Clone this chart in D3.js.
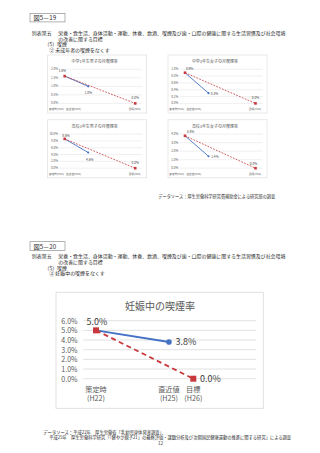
<!DOCTYPE html>
<html lang="ja">
<head>
<meta charset="UTF-8"/>
<title>図5-19 / 図5-20 喫煙の目標</title>
<script src="https://d3js.org/d3.v7.min.js"></script>
<style>
  body { margin: 0; background: #fff; }
  svg text { font-family: "Noto Sans CJK JP", "Noto Sans", sans-serif; }
</style>
</head>
<body>
<script>
// ---- data ----
var figLabels = ["図5－19", "図5－20"];
var headLead = "別表第五";
var headLine1 = "栄養・食生活、身体活動・運動、休養、飲酒、喫煙及び歯・口腔の健康に関する生活習慣及び社会環境";
var headLine2 = "の改善に関する目標";
var headLine3 = "（5）喫煙";
var subHeads = ["② 未成年者の喫煙をなくす", "③ 妊娠中の喫煙をなくす"];

var smallTitles = ["中学1年生男子の月喫煙率", "中学3年生女子の月喫煙率",
                   "高校3年生男子の月喫煙率", "高校3年生女子の月喫煙率"];
var smallCats = ["策定時(H22)", "直近値(H25)", "目標(H34)"];
var smallYears = [22, 25, 34];
var smallBase = [1.6, 0.9, 8.6, 3.8];
var smallLatest = [1.0, 0.3, 4.6, 1.4];
var smallTarget = [0.0, 0.0, 0.0, 0.0];
var smallTicks = [[0, 0.5, 1, 1.5, 2], [0, 0.2, 0.4, 0.6, 0.8, 1.0],
                  [0, 2, 4, 6, 8, 10], [0, 1, 2, 3, 4]];
var source1 = "データソース：厚生労働科学研究費補助金による研究班の調査";

var mainTitle = "妊娠中の喫煙率";
var mainCats = ["策定時", "直近値", "目標"];
var mainEras = ["(H22)", "(H25)", "(H26)"];
var mainYears = [22, 25, 26];
var mainValues = [5.0, 3.8, 0.0];
var mainTicks = [0, 1, 2, 3, 4, 5, 6];
var source2a = "データソース：平成22年　厚生労働省「乳幼児身体発育調査」、";
var source2b = "平成25年　厚生労働科学研究「「健やか親子21」の最終評価・課題分析及び次期国民健康運動の推進に関する研究」による調査";
var pageNo = "12";

// ---- look ----
var w = 320, h = 453;
var blue = "#4472C4", red = "#C8383C";
var ink = "#2b2b2b", axisInk = "#595959", labelInk = "#404040", grid = "#d9d9d9";
var pct = function(v){ return d3.format(".1f")(v) + "%"; };

var svg = d3.select("body").append("svg")
    .attr("width", w).attr("height", h);
svg.append("rect").attr("width", w).attr("height", h).attr("fill", "#fff");

function txt(x, y, s, size, fill, anchor) {
    return svg.append("text")
        .attr("x", x).attr("y", y)
        .attr("dominant-baseline", "central")
        .attr("text-anchor", anchor || "start")
        .attr("font-size", size)
        .attr("fill", fill || ink)
        .text(s);
}

/* section headers */
function header(top, lineYs, fig, sub) {
    svg.append("rect").attr("x", 30).attr("y", top)
        .attr("width", 35).attr("height", 8.6)
        .attr("fill", "none").attr("stroke", "#7f7f7f").attr("stroke-width", 0.6);
    txt(33.5, top + 4.4, fig, 6.2);
    txt(31.7, lineYs[0], headLead, 5);
    txt(58.3, lineYs[0], headLine1, 4.95);
    txt(58.3, lineYs[1], headLine2, 4.95);
    txt(44.5, lineYs[2], headLine3, 4.95);
    txt(49.3, lineYs[3], sub, 4.95);
}
header(13.3, [32.7, 38.3, 43.8, 49.8], figLabels[0], subHeads[0]);
header(241.7, [255.9, 261.4, 267.1, 272.8], figLabels[1], subHeads[1]);

/* four small charts */
var boxX = [47.7, 168], boxY = [55, 119.8];
var labelPos = [
    [[-2.4, -5.3], [0, 5.8], [0, -6.3]],
    [[4.6, -3.9], [6, 0], [0, -6]],
    [[1.3, -3.4], [1.6, 6.5], [0, -5.3]],
    [[5.5, -4], [6.4, 0.5], [-2, -5]]
];
var catShift = [-8.3, -14.7, -0.5];

smallTitles.forEach(function(title, i) {
    var bx = boxX[i % 2], by = boxY[Math.floor(i / 2)];
    var g = svg.append("g");

    g.append("rect").attr("x", bx).attr("y", by)
        .attr("width", 99).attr("height", 58)
        .attr("fill", "#fff").attr("stroke", grid).attr("stroke-width", 0.6);

    g.append("text").attr("x", bx + 47).attr("y", by + 5.8)
        .attr("dominant-baseline", "central").attr("text-anchor", "middle")
        .attr("font-size", 4.0).attr("fill", axisInk).text(title);

    var ticks = smallTicks[i];
    var x = d3.scaleLinear().domain(smallYears).range([bx + 17, bx + 40.5, bx + 87.5]);
    var y = d3.scaleLinear().domain([0, d3.max(ticks)]).range([by + 48.4, by + 14.3]);

    g.selectAll("line.grid").data(ticks).enter().append("line")
        .attr("x1", bx + 11.5).attr("x2", bx + 94.5)
        .attr("y1", d => y(d)).attr("y2", d => y(d))
        .attr("stroke", grid).attr("stroke-width", 0.4);

    g.selectAll("text.tick").data(ticks).enter().append("text")
        .attr("x", bx + 10.3).attr("y", d => y(d))
        .attr("dominant-baseline", "central").attr("text-anchor", "end")
        .attr("font-size", 3.0).attr("fill", axisInk)
        .text(pct);

    g.selectAll("text.cat").data(smallCats).enter().append("text")
        .attr("x", (d, k) => x(smallYears[k]) + catShift[k])
        .attr("y", by + 54.3)
        .attr("dominant-baseline", "central").attr("text-anchor", "middle")
        .attr("font-size", 2.7).attr("fill", axisInk)
        .text(d => d);

    var actual = [[smallYears[0], smallBase[i]], [smallYears[1], smallLatest[i]]];
    var target = [[smallYears[0], smallBase[i]], [smallYears[2], smallTarget[i]]];
    var line = d3.line().x(d => x(d[0])).y(d => y(d[1]));

    g.append("path").attr("d", line(actual))
        .attr("fill", "none").attr("stroke", blue).attr("stroke-width", 0.9);
    g.append("path").attr("d", line(target))
        .attr("fill", "none").attr("stroke", red).attr("stroke-width", 0.8)
        .attr("stroke-dasharray", "1.8,1.3");

    g.append("circle").attr("cx", x(actual[1][0])).attr("cy", y(actual[1][1]))
        .attr("r", 1.1).attr("fill", blue);
    g.selectAll("rect.mk").data(target).enter().append("rect")
        .attr("x", d => x(d[0]) - 1.3).attr("y", d => y(d[1]) - 1.3)
        .attr("width", 2.6).attr("height", 2.6).attr("fill", red);

    var pts = [target[0], actual[1], target[1]];
    g.selectAll("text.val").data(pts).enter().append("text")
        .attr("x", (d, k) => x(d[0]) + labelPos[i][k][0])
        .attr("y", (d, k) => y(d[1]) + labelPos[i][k][1])
        .attr("dominant-baseline", "central").attr("text-anchor", "middle")
        .attr("font-size", 3.2).attr("fill", labelInk)
        .text(d => pct(d[1]));
});

txt(158.3, 195.7, source1, 4.2);

/* main chart: 妊娠中の喫煙率 */
var mx = d3.scaleLinear().domain([mainYears[0], mainYears[2]]).range([96, 193.3]);
var my = d3.scaleLinear().domain([0, d3.max(mainTicks)]).range([378.7, 320.7]);

svg.append("rect").attr("x", 56).attr("y", 292.3)
    .attr("width", 207.3).attr("height", 116)
    .attr("fill", "#fff").attr("stroke", grid).attr("stroke-width", 0.8);

txt(160, 305, mainTitle, 10, axisInk, "middle");

svg.selectAll("line.mgrid").data(mainTicks).enter().append("line")
    .attr("x1", 83.3).attr("x2", 256)
    .attr("y1", d => my(d)).attr("y2", d => my(d))
    .attr("stroke", grid).attr("stroke-width", 0.8);

svg.selectAll("text.mtick").data(mainTicks).enter().append("text")
    .attr("x", 77.5).attr("y", d => my(d))
    .attr("dominant-baseline", "central").attr("text-anchor", "end")
    .attr("font-size", 7).attr("fill", axisInk)
    .text(pct);

svg.selectAll("text.mcat").data(mainCats).enter().append("text")
    .attr("x", (d, k) => mx(mainYears[k]))
    .attr("y", 389)
    .attr("dominant-baseline", "central").attr("text-anchor", "middle")
    .attr("font-size", 7.2).attr("fill", axisInk)
    .text(d => d);
svg.selectAll("text.mera").data(mainEras).enter().append("text")
    .attr("x", (d, k) => mx(mainYears[k]))
    .attr("y", 398.3)
    .attr("dominant-baseline", "central").attr("text-anchor", "middle")
    .attr("font-size", 7.2).attr("fill", axisInk)
    .text(d => d);

var mActual = [[mainYears[0], mainValues[0]], [mainYears[1], mainValues[1]]];
var mTarget = [[mainYears[0], mainValues[0]], [mainYears[2], mainValues[2]]];
var mline = d3.line().x(d => mx(d[0])).y(d => my(d[1]));

svg.append("path").attr("d", mline(mActual))
    .attr("fill", "none").attr("stroke", blue).attr("stroke-width", 2);
svg.append("path").attr("d", mline(mTarget))
    .attr("fill", "none").attr("stroke", red).attr("stroke-width", 1.8)
    .attr("stroke-dasharray", "5,3.5");

svg.append("circle").attr("cx", mx(mActual[1][0])).attr("cy", my(mActual[1][1]))
    .attr("r", 2.8).attr("fill", blue);
svg.selectAll("rect.mmk").data(mTarget).enter().append("rect")
    .attr("x", d => mx(d[0]) - 3).attr("y", d => my(d[1]) - 3)
    .attr("width", 6).attr("height", 6).attr("fill", red);

txt(mx(mActual[0][0]) + 1, my(mActual[0][1]) - 8.4, pct(mActual[0][1]), 9, labelInk, "middle");
txt(mx(mActual[1][0]) + 6.5, my(mActual[1][1]), pct(mActual[1][1]), 9, labelInk);
txt(mx(mTarget[1][0]) + 6.7, my(mTarget[1][1]), pct(mTarget[1][1]), 9, labelInk);

txt(43.3, 432.3, source2a, 4.3);
txt(49.3, 437.3, source2b, 4.27);
txt(160.5, 443.3, pageNo, 4.5, ink, "middle");
</script>
</body>
</html>
